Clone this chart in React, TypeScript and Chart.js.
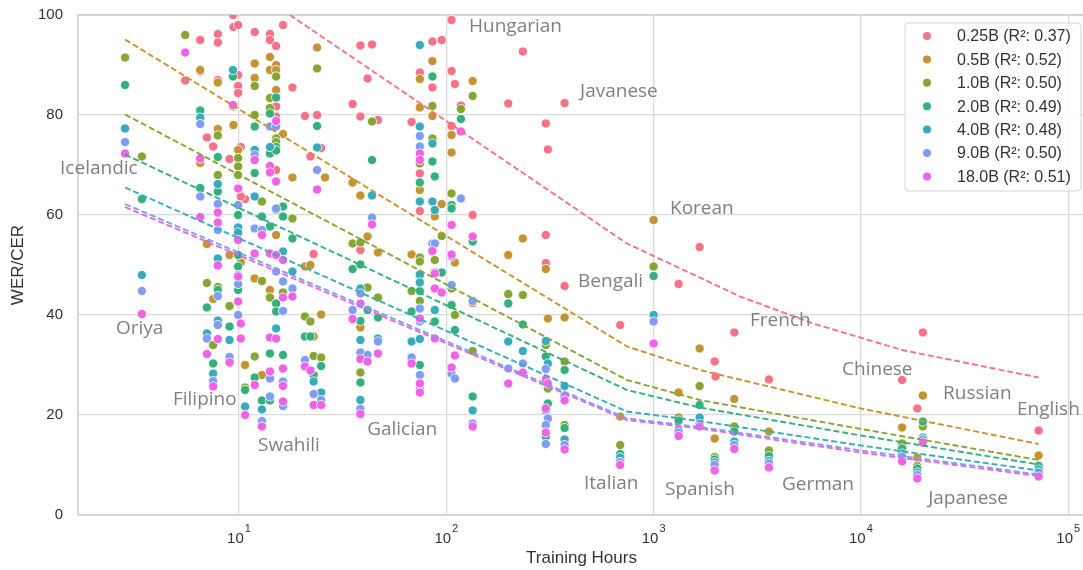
import React, { useEffect, useRef } from "react";
import { Chart, registerables } from "chart.js";

Chart.register(...registerables);

// ---- data ----
const hours = [
  2.82, 3.4, 5.5, 6.5, 6.5, 7.0, 7.5, 7.9, 7.9, 7.9,
  7.9, 9.0, 9.35, 9.4, 9.9, 9.9, 9.9, 9.9, 10.2, 10.7,
  10.2, 11.9, 11.9, 11.9, 12.9, 12.9, 14.1, 14.1, 14.1, 14.1,
  14.1, 15.1, 15.1, 15.1, 15.1, 15.1, 16.3, 16.3, 16.3, 16.3,
  16.3, 18.1, 20.8, 22.1, 22.9, 23.8, 24.9, 26, 35.3, 38.5,
  38.5, 38.5, 41.7, 43.8, 46.8, 68, 74.5, 74.5, 74.5, 74.5,
  74.5, 74.5, 85.7, 85.7, 88, 88, 88, 95, 106, 106,
  106, 110, 117.6, 134, 134, 199, 234, 302, 309, 302,
  302, 372, 372, 690, 1000, 1320, 1667, 1970, 1990, 2450,
  3600, 15800, 18700, 19900, 72000,
];

const wer025 = [
  null, null, 86.9, 95, 88.7, 75.5, 73.7, 96.2, 94.5, 87,
  null, 71.2, 100, 97.6, 98, 88, 85.8, 84.4, 73.6, 63.2,
  63.7, 96.6, null, null, null, null, 96.2, 95, null, null,
  null, 93.8, 81.7, 79.7, 69, null, 98, null, null, null,
  null, 85.5, 79.8, 71.7, 52.2, 80, 73.4, null, 82.2, 93.9,
  79.7, 53, 87.3, 94.1, 79, 78.6, 88.5, 68.3, 60.8, null,
  null, null, 94.7, 85.5, null, null, null, 95, 99, 88.8,
  77.8, 86.2, 81.9, 60, null, 82.3, 92.7, 78.3, 73.1, 56,
  50.4, 82.4, 45.8, 38, null, 46.2, 53.6, 30.7, 27.7, 36.5,
  27.1, 27, 21.3, 36.5, 16.9,
];

const wer05 = [
  null, null, null, 89, 70.4, 54.2, 43.2, 86.5, 77.2, null,
  null, 52, 81.7, 78, 73, null, null, null, null, 30,
  50.5, 90.3, 87.4, 47.3, 28, null, 91.6, 89, null, 45,
  null, 90, 85, 89, 56, null, 76.2, null, null, null,
  null, 67.5, 49.7, 50, 35.7, 93.5, 40.1, 67.5, 66.5, 63.9,
  37.5, null, 55.7, null, 52.5, 52.1, 87.2, 65, 81.5, null,
  null, null, 90.8, 79.8, 59.7, null, null, 62.2, 76, 72.5,
  null, 50.5, null, 86.8, 42.4, 52, 55.3, 49.2, 39.3, null,
  null, 39.5, null, 19.7, 59, 24.5, 33.3, 15.3, null, 23.2,
  16.7, 17.5, 11.5, 23.9, 11.9,
];

const wer10 = [
  91.5, 71.7, 96, null, null, 46.4, 34, 75.9, 68, 45.6,
  null, 41.8, null, null, 71.4, 69.7, 68, null, null, 25.5,
  null, 85.8, 80, 31.7, 46.8, 62.7, 83.4, 81.4, 43.5, null,
  null, 87.7, 75.3, 74.6, 61, null, 44.5, null, null, null,
  null, 59.3, 39.7, 38.7, 31.8, 89.3, 31.5, null, 54.3, 54.5,
  null, 28.5, 45.5, 78.7, 43.5, 44.8, 70.3, 51.5, 42.8, 50.7,
  null, null, 81.8, 75.3, 51, null, null, 55.8, 64.3, 61.4,
  45.3, 40, 81.2, 83.8, 32.8, 44.2, 44, 34, 25.3, null,
  null, 30.7, 18, 14, 49.7, 19.5, 25.8, 11.6, null, 17.7,
  12.9, 14.3, 9.8, 17.7, 10,
];

const wer20 = [
  86, 63.2, null, 80.9, 65.4, 41.5, 30.3, 71.6, 64.7, 45,
  null, 37.7, 87.7, null, 60, 52, 49.7, 45, null, 25,
  null, 77.7, 68.4, 27.5, 22.9, 59.7, 80.3, 72.3, 57.7, 32.3,
  22.9, 83.5, 73.6, 72.9, 42.3, 40.7, 59.7, 32, 61.7, null,
  null, 55.3, 35.7, 35.7, 28, 77.8, 29.8, null, 49.2, 50.1,
  38.8, 26.5, 41, 71, 39.5, 40.7, 66.5, 47.8, 44.8, 30,
  null, null, 87.7, 70.7, 67.7, 48.5, 38.7, 48.5, 62, 61.3,
  42, 37, 79.2, 54.7, 23.7, 42.3, 38.1, 31.7, 22.3, 15.7,
  null, 29, 17.4, 12.2, 47.8, 18.9, 22, 11.1, null, 16.7,
  11.8, 13.3, 9.3, 18.7, 9.8,
];

const wer40 = [
  77.3, 48, null, 79.5, null, 36.3, 28.3, 66.2, 58.3, 51.3,
  38.9, 35, 89, null, 57.5, 56.5, null, null, null, 21.7,
  null, 73, 63.7, null, 21.1, null, 73.6, null, null, null,
  null, null, 37.3, null, null, null, 52.7, null, null, null,
  null, 48.7, null, null, 26.7, 73.5, 24.5, null, null, 45.3,
  35, 23, null, 63.9, 35.3, 34.7, 77.7, 62.7, 48.1, 46.5,
  35.2, 94, 74.3, 62.7, 61, 41, null, null, null, null,
  null, null, null, null, 20.9, 34.7, 32.8, 34.8, 30.3, 20.9,
  null, 25.8, 15.1, 11.5, 40, 17, 19.5, 10.5, null, 14.7,
  10.8, 12.3, 8.5, 15.5, 9.1,
];

const wer90 = [
  74.6, 44.8, null, 78.2, 63.7, 35.3, 26.8, 62.2, 57, 43.8,
  38, 31.6, null, null, 62, 48, 46.2, 40, null, null,
  null, 72, 57.3, null, 18.8, 57, 77.7, null, null, 27.3,
  23.7, 77.7, 61.3, 48.7, null, null, 46.7, 26.7, 40.8, 21.8,
  null, 45.3, 31, null, 24.2, 69, 23, null, 41, 44.3,
  32.5, 21.2, 32, 59.5, 34.7, 31.5, 75.8, 73.7, 41.3, 28,
  25.1, 38.7, null, 54.3, 54.3, null, null, null, 51.7, 46,
  28.3, 27.3, 63.3, 42.8, 18.3, 29.3, 30.3, 29.2, 19.3, 14.2,
  18, 23.8, 14, 10.6, 38.7, 16.5, 18.2, 10, null, 14,
  10.3, 11.7, 8, 15.1, 8.5,
];

const wer180 = [
  72.3, 40.2, 92.5, 71.3, 59.6, 32.2, 25.7, 60.5, 58.5, 49.9,
  35.2, 30.5, 82, null, 65.3, 55, 47.7, 42.7, 38.3, 20,
  35.3, 71, 52.3, 26, 17.7, 56, 69.8, 68.5, 52.3, 28.7,
  35.5, 78.8, 66.7, 52, 35.3, null, 51, 29.3, 43.5, 22.7,
  25.8, 43.7, 29.7, 28.9, 22, 65.1, 22, null, 39.2, 42.3,
  31.2, 20.2, 30.7, 58.1, 32.3, 30.3, 72.3, 71, 39.3, 26.3,
  24.5, null, null, 52.8, 48.3, 45.3, 35.3, 44.5, 58, 52.1,
  29.5, 31.9, 76.7, 55.7, 17.7, 26.3, 28.5, 27.2, 26.3, 16.5,
  21.3, 22.9, 13.1, 10, 34.3, 15.8, 17.7, 8.9, null, 13.2,
  9.5, 10.7, 7.3, 14.5, 7.7,
];

// fitted trend lines (dashed)
const fitHours025 = [17.6, 744, 1667, 2612, 5875, 15800, 72000];
const fit025 = [100, 54.3, 47.5, 43.7, 38.3, 33, 27.5];
const fitHours = [2.82, 744, 1667, 10000, 72000];
const fit05 = [95.1, 33.7, 29, 21.3, 14.2];
const fit10 = [80.1, 27, 23, 17.2, 11];
const fit20 = [72.1, 25, 21.5, 15.9, 10.1];
const fit40 = [65.5, 20.7, 18.8, 13.9, 8.9];
const fit90 = [62.2, 19.3, 17.6, 12.9, 8.1];
const fit180 = [61.6, 19, 17.3, 12.5, 7.8];

const seriesLabels = [
  "0.25B (R²: 0.37)",
  "0.5B (R²: 0.52)",
  "1.0B (R²: 0.50)",
  "2.0B (R²: 0.49)",
  "4.0B (R²: 0.48)",
  "9.0B (R²: 0.50)",
  "18.0B (R²: 0.51)",
];
const seriesColors = ["#f77189", "#c49433", "#85a732", "#33b07c", "#37aabb", "#7f9df3", "#f262e6"];

const xTickValues = [10, 100, 1000, 10000, 100000];
const xTickExponents = ["1", "2", "3", "4", "5"];
const yTickValues = [0, 20, 40, 60, 80, 100];

const annoLabels = [
  "Icelandic", "Oriya", "Filipino", "Swahili", "Galician", "Hungarian", "Javanese", "Korean", "Bengali",
  "Italian", "Spanish", "French", "German", "Chinese", "Russian", "English", "Japanese",
];
const annoHours = [1.37, 2.55, 4.8, 12.35, 41.5, 128.7, 441.6, 1200, 432, 461.6, 1135, 2917, 4160, 8110, 24900, 56600, 21100];
const annoWer = [68.2, 36.2, 22, 12.8, 16, 96.6, 83.6, 60.3, 45.6, 5.3, 4, 37.8, 5, 28, 23.2, 20, 2.2];

const FONT = '"Liberation Sans", Arial, sans-serif';
const ANNO_FONT = '"Open Sans", "Noto Sans", sans-serif';
const TEXT = "#333333";

export default function App() {
  const ref = useRef<HTMLCanvasElement>(null);

  useEffect(() => {
    document.body.style.margin = "0";
    const canvas = ref.current!;
    const werSeries = [wer025, wer05, wer10, wer20, wer40, wer90, wer180];
    const fitSeries = [fit025, fit05, fit10, fit20, fit40, fit90, fit180];

    const scatterSets = werSeries.map((vals, i) => ({
      type: "scatter" as const,
      label: seriesLabels[i],
      data: hours
        .map((h, j) => (vals[j] == null ? null : { x: h, y: vals[j] as number }))
        .filter((p) => p !== null),
      backgroundColor: seriesColors[i],
      borderColor: "#ffffff",
      borderWidth: 0.8,
      pointRadius: 4.6,
      pointHoverRadius: 4.6,
      order: 10 - i,
    }));

    const lineSets = fitSeries.map((vals, i) => {
      const xs = i === 0 ? fitHours025 : fitHours;
      return {
        type: "scatter" as const,
        label: "fit " + seriesLabels[i],
        data: xs.map((h, j) => ({ x: h, y: vals[j] })),
        showLine: true,
        fill: false,
        borderColor: seriesColors[i],
        backgroundColor: seriesColors[i],
        borderWidth: 1.9,
        borderDash: [6, 3],
        pointRadius: 0,
        pointHoverRadius: 0,
        order: 0,
      };
    });

    const zeroPad = (s: any) => {
      s.paddingTop = 0;
      s.paddingBottom = 0;
      s.paddingLeft = 0;
      s.paddingRight = 0;
    };

    const decor = {
      id: "decor",
      beforeDatasetsDraw(chart: any) {
        const { ctx, chartArea: a } = chart;
        ctx.save();
        ctx.strokeStyle = "#d0d0d0";
        ctx.lineWidth = 1.6;
        ctx.beginPath();
        ctx.moveTo(a.right, a.top);
        ctx.lineTo(a.left, a.top);
        ctx.lineTo(a.left, a.bottom);
        ctx.lineTo(a.right, a.bottom);
        ctx.stroke();
        ctx.restore();
      },
      afterDraw(chart: any) {
        const { ctx, chartArea: a } = chart;
        const xs = chart.scales.x;
        const ys = chart.scales.y;
        ctx.save();

        // x tick labels 10^k
        ctx.fillStyle = TEXT;
        ctx.textAlign = "left";
        ctx.textBaseline = "alphabetic";
        xTickValues.forEach((v, i) => {
          const px = xs.getPixelForValue(v);
          ctx.font = `15px ${FONT}`;
          const w1 = ctx.measureText("10").width;
          ctx.font = `11px ${FONT}`;
          const w2 = ctx.measureText(xTickExponents[i]).width;
          const start = px - (w1 + w2 + 1) / 2;
          ctx.font = `15px ${FONT}`;
          ctx.fillText("10", start, a.bottom + 28);
          ctx.font = `11px ${FONT}`;
          ctx.fillText(xTickExponents[i], start + w1 + 1, a.bottom + 17);
        });

        // axis titles
        ctx.font = `17px ${FONT}`;
        ctx.textAlign = "center";
        ctx.textBaseline = "middle";
        ctx.fillText("Training Hours", (a.left + a.right) / 2 + 1, a.bottom + 43);
        ctx.save();
        ctx.translate(18, (a.top + a.bottom) / 2);
        ctx.rotate(-Math.PI / 2);
        ctx.fillText("WER/CER", 0, 0);
        ctx.restore();

        // annotations
        ctx.font = `19px ${ANNO_FONT}`;
        ctx.fillStyle = "#808080";
        ctx.textAlign = "left";
        ctx.textBaseline = "alphabetic";
        annoLabels.forEach((t, i) => {
          ctx.fillText(t, xs.getPixelForValue(annoHours[i]), ys.getPixelForValue(annoWer[i]));
        });

        // legend
        const bx = a.right - 178;
        const by = a.top + 8;
        const bw = 176;
        const bh = 168;
        ctx.beginPath();
        ctx.roundRect(bx, by, bw, bh, 4);
        ctx.fillStyle = "rgba(255,255,255,0.85)";
        ctx.fill();
        ctx.strokeStyle = "#d6d6d6";
        ctx.lineWidth = 1;
        ctx.stroke();
        ctx.font = `16px ${FONT}`;
        ctx.textBaseline = "middle";
        ctx.textAlign = "left";
        seriesLabels.forEach((lab, i) => {
          const cy = by + 13 + i * 23.4;
          ctx.beginPath();
          ctx.arc(bx + 22, cy, 4, 0, Math.PI * 2);
          ctx.fillStyle = seriesColors[i];
          ctx.fill();
          ctx.fillStyle = TEXT;
          ctx.fillText(lab, bx + 52, cy + 1);
        });
        ctx.restore();
      },
    };

    const chart = new Chart(canvas, {
      type: "scatter",
      data: { datasets: [...lineSets, ...scatterSets] as any },
      options: {
        animation: false,
        responsive: false,
        devicePixelRatio: 1,
        events: [],
        layout: { autoPadding: false, padding: { top: 15, right: 0, bottom: 0, left: 0 } },
        plugins: { legend: { display: false }, tooltip: { enabled: false } },
        scales: {
          x: {
            type: "logarithmic",
            min: 1.672,
            max: 117840,
            bounds: "data",
            afterBuildTicks: (s: any) => {
              s.ticks = xTickValues.map((v) => ({ value: v }));
            },
            afterFit: (s: any) => {
              s.height = 55;
              zeroPad(s);
            },
            ticks: { display: false },
            grid: { color: "#dadada", lineWidth: 1.3, drawTicks: false },
            border: { display: false },
          },
          y: {
            type: "linear",
            min: 0,
            max: 100,
            afterBuildTicks: (s: any) => {
              s.ticks = yTickValues.map((v) => ({ value: v }));
            },
            afterFit: (s: any) => {
              s.width = 78;
              zeroPad(s);
            },
            ticks: { font: { family: FONT, size: 15 }, color: TEXT, padding: 15 },
            grid: { color: "#dadada", lineWidth: 1.3, drawTicks: false },
            border: { display: false },
          },
        },
      } as any,
      plugins: [decor],
    });
    return () => chart.destroy();
  }, []);

  return (
    <div style={{ width: 1083, height: 570 }}>
      <canvas ref={ref} width={1083} height={570} style={{ display: "block" }} />
    </div>
  );
}
